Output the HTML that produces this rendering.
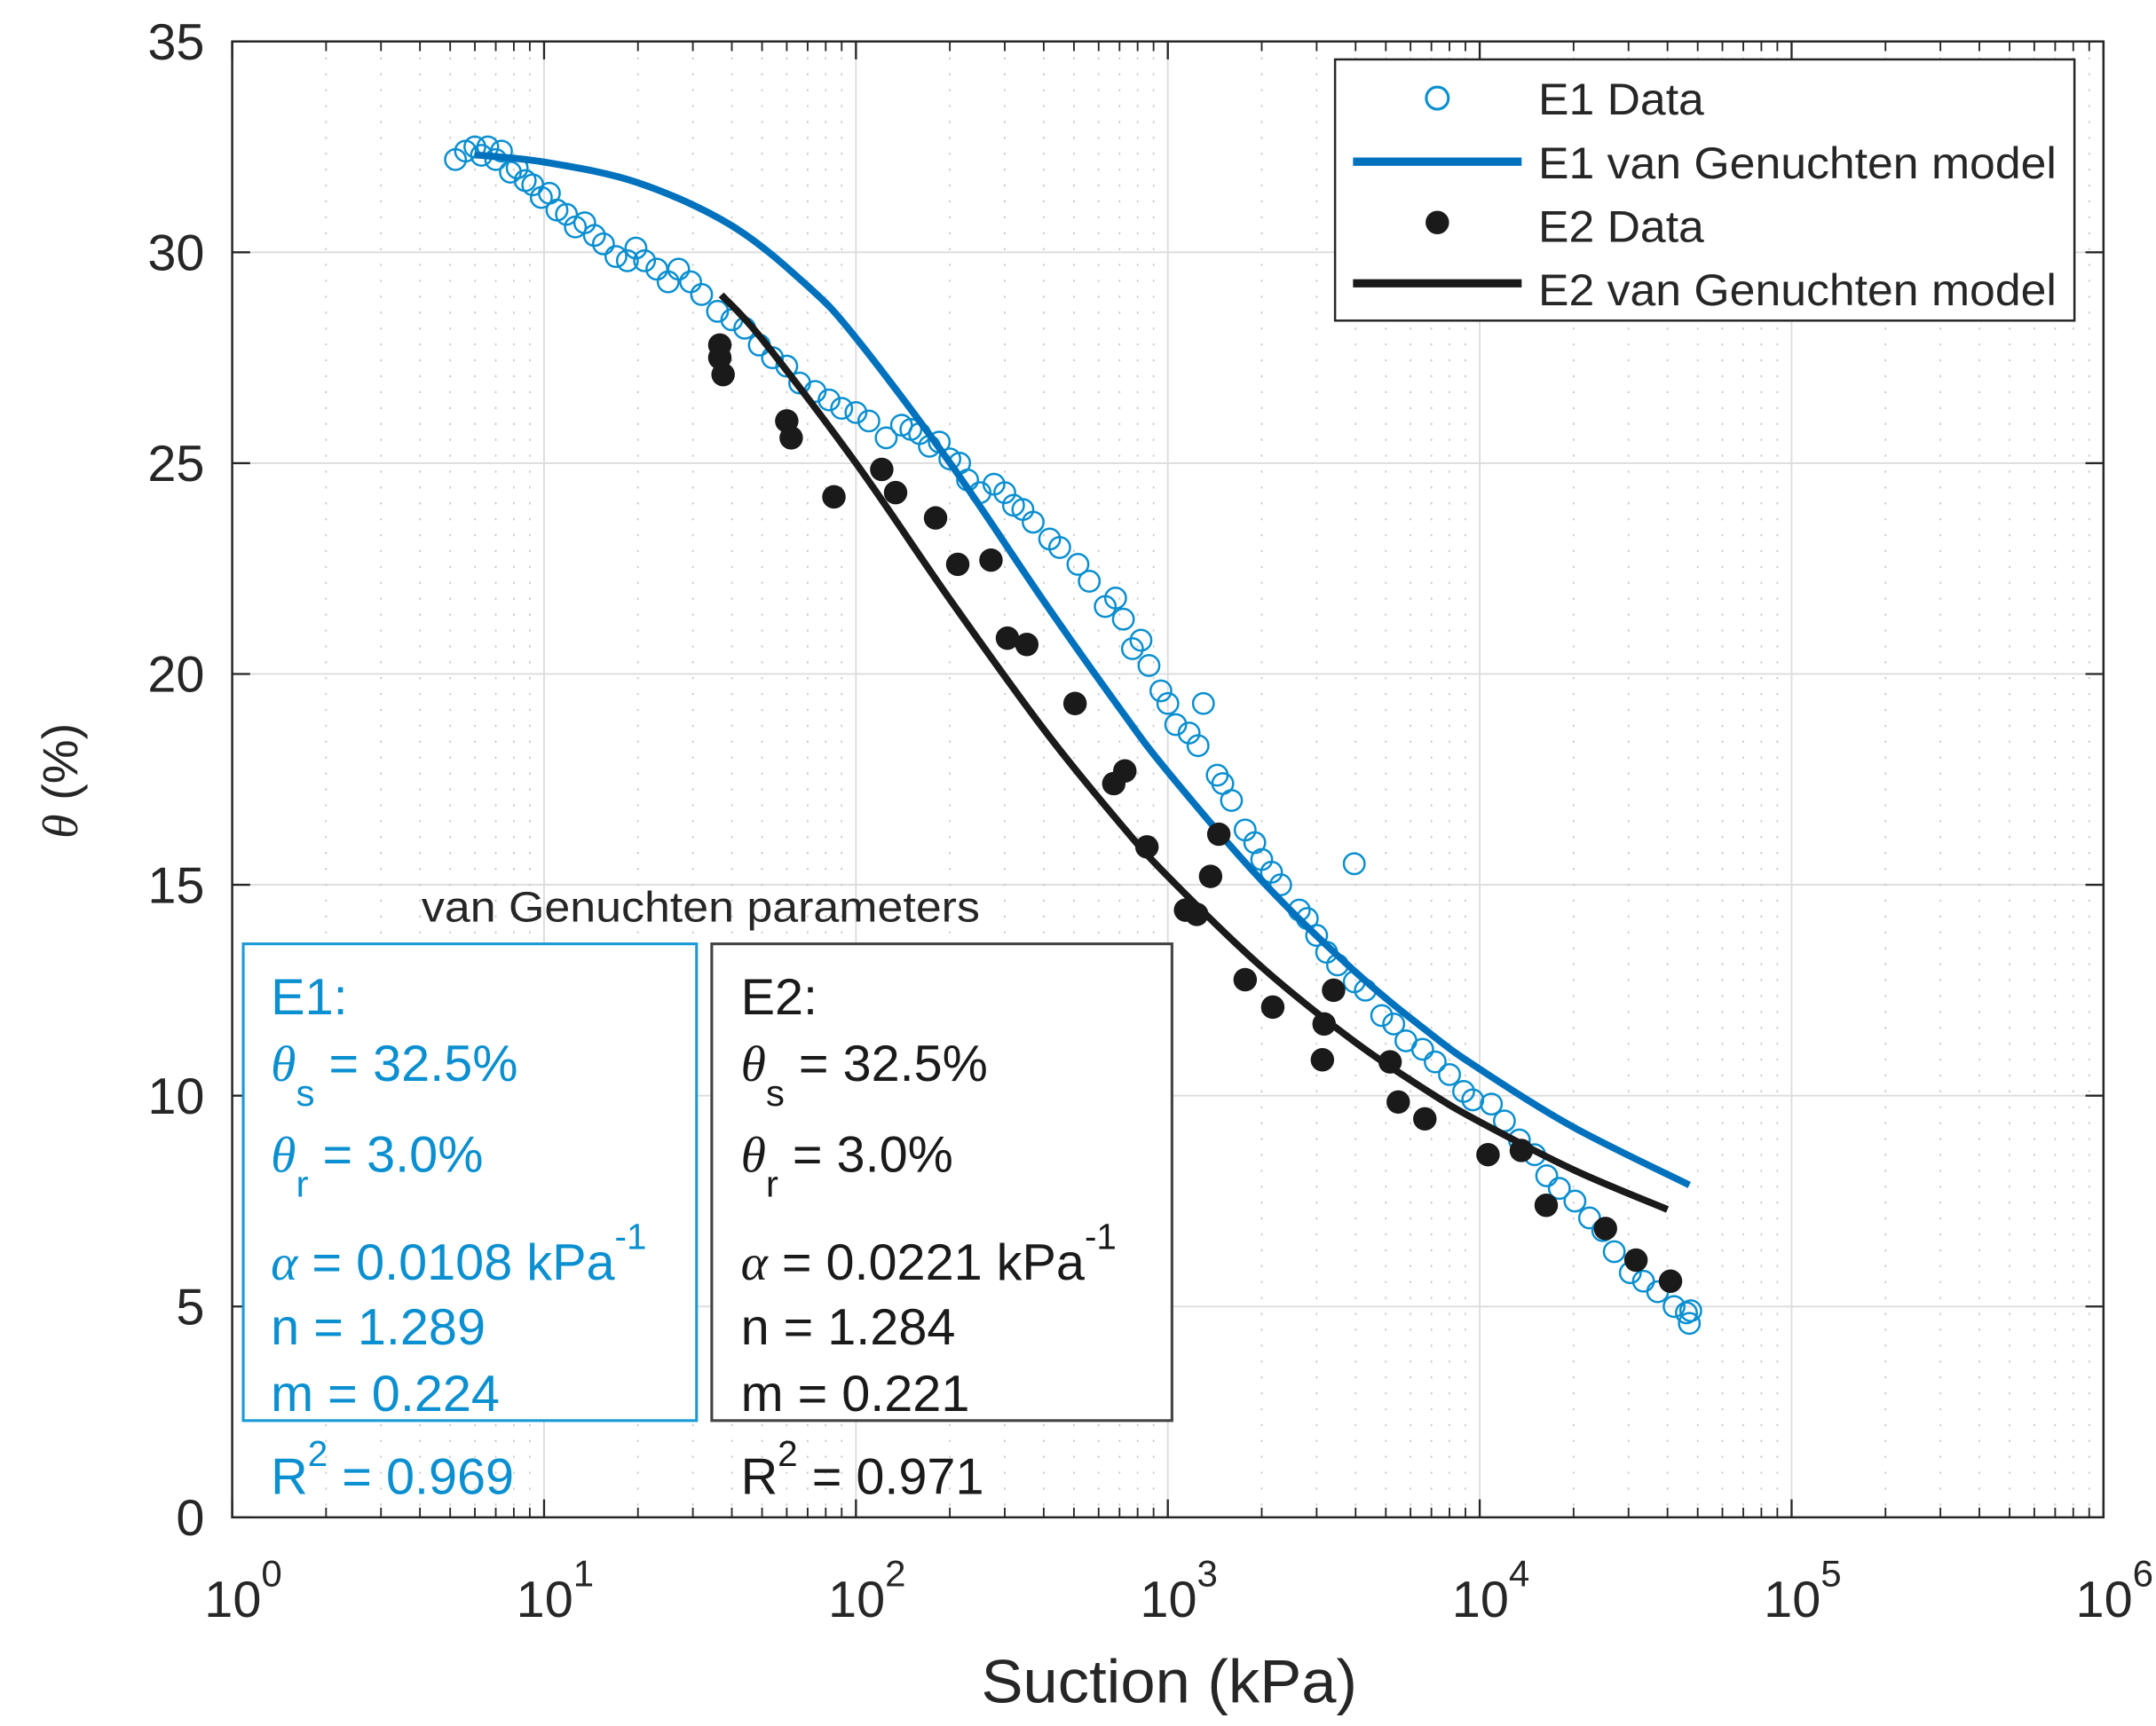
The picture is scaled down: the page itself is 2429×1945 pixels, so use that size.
<!DOCTYPE html>
<html><head><meta charset="utf-8"><style>
html,body{margin:0;padding:0;background:#fff;}
svg{display:block;font-family:"Liberation Sans",Arial,sans-serif;}
</style></head><body>
<svg id="chart" width="2429" height="1945" viewBox="0 0 1560 1249" preserveAspectRatio="none" xmlns="http://www.w3.org/2000/svg">
<rect x="0" y="0" width="1560" height="1249" fill="#fff"/>
<g id="grid"></g>
<g id="series"></g>
<rect x="168" y="30" width="1354" height="1068" fill="none" stroke="#262626" stroke-width="1.6"/>
<g id="ticks"></g>
<text x="846" y="1232" font-size="44" text-anchor="middle" fill="#262626" textLength="272" lengthAdjust="spacingAndGlyphs">Suction (kPa)</text>
<text transform="translate(56,565) rotate(-90)" font-size="36" text-anchor="middle" fill="#262626"><tspan font-family="Liberation Serif,serif" font-style="italic">θ</tspan> (%)</text>

<g>
<rect x="966" y="43" width="535" height="189" fill="#fff" stroke="#262626" stroke-width="1.6"/>
<circle cx="1040" cy="71" r="8" fill="none" stroke="#0a8fd0" stroke-width="2"/>
<text x="1113" y="83" font-size="32" fill="#262626" textLength="120" lengthAdjust="spacingAndGlyphs">E1 Data</text>
<line x1="979" y1="117" x2="1101" y2="117" stroke="#0072BD" stroke-width="6"/>
<text x="1113" y="129" font-size="32" fill="#262626" textLength="375" lengthAdjust="spacingAndGlyphs">E1 van Genuchten model</text>
<circle cx="1040" cy="161" r="8.5" fill="#1a1a1a"/>
<text x="1113" y="175" font-size="32" fill="#262626" textLength="120" lengthAdjust="spacingAndGlyphs">E2 Data</text>
<line x1="979" y1="205" x2="1101" y2="205" stroke="#1a1a1a" stroke-width="6"/>
<text x="1113" y="221" font-size="32" fill="#262626" textLength="375" lengthAdjust="spacingAndGlyphs">E2 van Genuchten model</text>
</g>

<g>
<text x="305" y="667" font-size="31" fill="#262626" textLength="404" lengthAdjust="spacingAndGlyphs">van Genuchten parameters</text>
<rect x="176" y="683" width="328" height="345" fill="#fff" stroke="#1a9ad6" stroke-width="2"/>
<rect x="515" y="683" width="333" height="345" fill="#fff" stroke="#444" stroke-width="2"/>
<g font-size="37" fill="#0a8fd0">
<text x="196" y="734">E1:</text>
<text x="196" y="782"><tspan font-family="Liberation Serif,serif" font-style="italic">θ</tspan><tspan dy="18" font-size="27">s</tspan><tspan dy="-18"> = 32.5%</tspan></text>
<text x="196" y="848"><tspan font-family="Liberation Serif,serif" font-style="italic">θ</tspan><tspan dy="18" font-size="27">r</tspan><tspan dy="-18"> = 3.0%</tspan></text>
<text x="196" y="926"><tspan font-family="Liberation Serif,serif" font-style="italic">α</tspan> = 0.0108 kPa<tspan dy="-22" font-size="26">-1</tspan></text>
<text x="196" y="973">n = 1.289</text>
<text x="196" y="1021">m = 0.224</text>
<text x="196" y="1081">R<tspan dy="-20" font-size="26">2</tspan><tspan dy="20"> = 0.969</tspan></text>
</g>
<g font-size="37" fill="#1a1a1a">
<text x="536" y="734">E2:</text>
<text x="536" y="782"><tspan font-family="Liberation Serif,serif" font-style="italic">θ</tspan><tspan dy="18" font-size="27">s</tspan><tspan dy="-18"> = 32.5%</tspan></text>
<text x="536" y="848"><tspan font-family="Liberation Serif,serif" font-style="italic">θ</tspan><tspan dy="18" font-size="27">r</tspan><tspan dy="-18"> = 3.0%</tspan></text>
<text x="536" y="926"><tspan font-family="Liberation Serif,serif" font-style="italic">α</tspan> = 0.0221 kPa<tspan dy="-22" font-size="26">-1</tspan></text>
<text x="536" y="973">n = 1.284</text>
<text x="536" y="1021">m = 0.221</text>
<text x="536" y="1081">R<tspan dy="-20" font-size="26">2</tspan><tspan dy="20"> = 0.971</tspan></text>
</g>
</g>
</svg>
<script>
const yTicks = [0,5,10,15,20,25,30,35];
const xDecades = [0,1,2,3,4,5,6];
const e1Model_h = [6,10,20,40,70,100,200,400,700,1000,2000,4000,7000,10000,20000,47000];
const e1Model_theta = [32.31,32.14,31.65,30.63,29.2,27.97,25.01,21.73,19.19,17.68,15.10,12.93,11.45,10.63,9.25,7.88];
const e2Model_h = [37,50,100,200,400,700,1000,2000,4000,7000,10000,20000,40000];
const e2Model_theta = [28.99,27.94,25.0,21.77,18.69,16.47,15.20,13.05,11.26,10.05,9.38,8.24,7.30];
const e2Data_h = [36.6,36.6,37.5,60,62,85,121,134,180,212,271,306,353,504,671,728,857,1140,1238,1371,1457,1770,2170,3130,3170,3400,5160,5480,6670,10630,13600,16340,25300,31700,40900];
const e2Data_theta = [27.8,27.5,27.1,26.0,25.6,24.2,24.85,24.3,23.7,22.6,22.7,20.85,20.7,19.3,17.4,17.7,15.9,14.4,14.3,15.2,16.2,12.75,12.1,10.85,11.7,12.5,10.8,9.85,9.45,8.6,8.7,7.4,6.85,6.1,5.6];
const e1Data_h = [5.2,5.6,6.0,6.3,6.6,7.0,7.3,7.8,8.2,8.7,9.2,9.8,10.4,11.0,11.8,12.6,13.5,14.5,15.5,17,18.5,19.7,21,23,25,27,29.5,32,36,40,44,49,54,60,66,74,82,90,100,110,125,140,150,160,172,185,200,215,228,250,277,300,320,343,370,418,450,515,560,630,680,720,770,820,870,950,1000,1060,1170,1250,1300,1440,1500,1600,1770,1900,2000,2150,2300,2640,2800,3000,3230,3500,3960,3960,4300,4850,5300,5800,6560,7200,8000,8880,9500,10900,12000,13400,15000,16400,18000,20200,22500,24800,27000,30400,33500,37200,42000,46000,47000,47500];
const e1Data_theta = [32.2,32.4,32.5,32.3,32.5,32.2,32.4,31.9,32.0,31.7,31.6,31.3,31.4,31.0,30.9,30.6,30.7,30.4,30.2,29.9,29.8,30.1,29.8,29.6,29.3,29.6,29.3,29.0,28.6,28.4,28.2,27.8,27.5,27.3,26.9,26.7,26.5,26.3,26.2,26.0,25.6,25.9,25.8,25.7,25.4,25.5,25.1,25.0,24.6,24.3,24.5,24.3,24.0,23.9,23.6,23.2,23.0,22.6,22.2,21.6,21.8,21.3,20.6,20.8,20.2,19.6,19.3,18.8,18.6,18.3,19.3,17.6,17.4,17.0,16.3,16.0,15.6,15.3,15.0,14.4,14.2,13.8,13.4,13.1,12.7,15.5,12.5,11.9,11.7,11.3,11.1,10.8,10.5,10.1,9.9,9.8,9.4,8.95,8.6,8.1,7.8,7.5,7.1,6.8,6.3,5.8,5.6,5.35,5.0,4.85,4.6,4.9];

const NS='http://www.w3.org/2000/svg';
const L=168,R=1522,T=30,B=1098;
function xs(h){return L+(Math.log10(h))*(R-L)/6;}
function ys(v){return B-(v/35)*(B-T);}
function mk(tag,attrs,parent){const e=document.createElementNS(NS,tag);for(const k in attrs)e.setAttribute(k,attrs[k]);parent.appendChild(e);return e;}
function smooth(pts){
  let d='M'+pts[0][0]+','+pts[0][1];
  for(let i=0;i<pts.length-1;i++){
    const p0=pts[Math.max(0,i-1)],p1=pts[i],p2=pts[i+1],p3=pts[Math.min(pts.length-1,i+2)];
    const c1x=p1[0]+(p2[0]-p0[0])/6,c1y=p1[1]+(p2[1]-p0[1])/6;
    const c2x=p2[0]-(p3[0]-p1[0])/6,c2y=p2[1]-(p3[1]-p1[1])/6;
    d+=' C'+c1x+','+c1y+' '+c2x+','+c2y+' '+p2[0]+','+p2[1];
  }
  return d;
}
const grid=document.getElementById('grid'),ticks=document.getElementById('ticks'),series=document.getElementById('series');

yTicks.forEach(v=>{
  const y=ys(v);
  if(v>0&&v<35){const g=mk('line',{x1:L,x2:R,y1:y,y2:y,stroke:'#dcdcdc','stroke-width':1.2},grid);
  
  }
  const t1=mk('line',{x1:L,x2:L+13,y1:y,y2:y,stroke:'#262626','stroke-width':1.5},ticks);
  
  
  const t2=mk('line',{x1:R,x2:R-13,y1:y,y2:y,stroke:'#262626','stroke-width':1.5},ticks);
  
  
  const lb=mk('text',{x:148,y:y+13,'font-size':37,'text-anchor':'end',fill:'#262626'},ticks);
  lb.textContent=v;
  
  
});
xDecades.forEach(d=>{
  const x=xs(Math.pow(10,d));
  if(d>0&&d<6){const g=mk('line',{x1:x,x2:x,y1:T,y2:B,stroke:'#dcdcdc','stroke-width':1.2},grid);
  
  }
  [B,T].forEach(yy=>{const t=mk('line',{x1:x,x2:x,y1:yy,y2:yy===B?B-13:T+13,stroke:'#262626','stroke-width':1.5},ticks);
  
  });
  const lb=mk('text',{x:x+8,y:1170,'font-size':37,'text-anchor':'middle',fill:'#262626'},ticks);
  
  
  lb.appendChild(document.createTextNode('10'));
  const sp=mk('tspan',{dy:-22,'font-size':27},lb);sp.textContent=d;
  if(d<6){for(let m=2;m<=9;m++){const xm=xs(m*Math.pow(10,d));
    const g=mk('line',{x1:xm,x2:xm,y1:T,y2:B,stroke:'#c8c8c8','stroke-width':1.1,'stroke-dasharray':'1.5 10'},grid);
    
    
    [B,T].forEach(yy=>{const t=mk('line',{x1:xm,x2:xm,y1:yy,y2:yy===B?B-7:T+7,stroke:'#262626','stroke-width':1.2},ticks);
    
    });}}
});

e1Data_h.forEach((h,i)=>{
  const c=mk('circle',{cx:xs(h),cy:ys(e1Data_theta[i]),r:7.5,fill:'none',stroke:'#0a8fd0','stroke-width':1.6},series);
  
  
});
const p1=mk('path',{d:smooth(e1Model_h.map((h,i)=>[xs(h),ys(e1Model_theta[i])])),fill:'none',stroke:'#0072BD','stroke-width':5,'stroke-linejoin':'round'},series);


const p2=mk('path',{d:smooth(e2Model_h.map((h,i)=>[xs(h),ys(e2Model_theta[i])])),fill:'none',stroke:'#1a1a1a','stroke-width':5,'stroke-linejoin':'round'},series);


e2Data_h.forEach((h,i)=>{
  const c=mk('circle',{cx:xs(h),cy:ys(e2Data_theta[i]),r:8.5,fill:'#1a1a1a'},series);
  
  
});
</script>
</body></html>
